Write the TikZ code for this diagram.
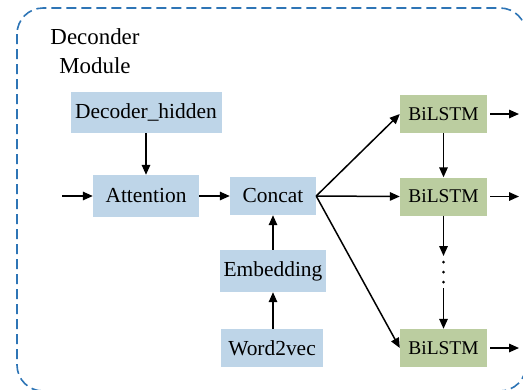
\documentclass[tikz,border=0pt]{standalone}
\usepackage{fontspec}
\newfontfamily\timesf{Liberation Serif}
\usetikzlibrary{arrows.meta}
\definecolor{boxblue}{RGB}{190,213,232}
\definecolor{boxgreen}{RGB}{187,205,160}
\definecolor{frameblue}{RGB}{46,117,182}
\begin{document}
\begin{tikzpicture}[x=1bp,y=-1bp,
  bluebox/.style={fill=boxblue,draw=none,inner sep=0pt,font=\timesf\fontsize{21.5}{25}\selectfont},
  greenbox/.style={fill=boxgreen,draw=none,inner sep=0pt,minimum width=87bp,minimum height=38bp,font=\timesf\fontsize{19.5}{24}\selectfont},
  arr/.style={-{Triangle[length=10bp,width=8.5bp]},line width=1.5bp,black},
  dotmark/.style={circle,fill=black,inner sep=0pt,minimum size=3bp}]
\useasboundingbox (0,0) rectangle (523,389);
\begin{scope}
\clip (0,0) rectangle (523,389);
\draw[frameblue,line width=1.6bp,dash pattern=on 10bp off 5bp,rounded corners=26bp] (17,8) rectangle (526,391);
\end{scope}
\node[font=\timesf\fontsize{23}{29}\selectfont,align=center] (title) at (95,51) {Deconder\\Module};
\node[bluebox,minimum width=151bp,minimum height=41bp] (dh) at (146,112.5) {Decoder\_hidden};
\node[bluebox,minimum width=106bp,minimum height=42bp] (att) at (146,196) {Attention};
\node[bluebox,minimum width=86bp,minimum height=38bp] (cat) at (273,196) {Concat};
\node[bluebox,minimum width=106bp,minimum height=42bp] (emb) at (273,271) {Embedding};
\node[bluebox,minimum width=102bp,minimum height=38bp] (w2v) at (272,348) {Word2vec};
\node[greenbox] (b1) at (443.5,114) {BiLSTM};
\node[greenbox] (b2) at (443.5,196.5) {BiLSTM};
\node[greenbox] (b3) at (443.5,348) {BiLSTM};
\coordinate (in) at (62,196);
\coordinate (o1) at (519,114);
\coordinate (o2) at (519,196.5);
\coordinate (o3) at (519,348);
\coordinate (d1) at (443.5,256);
\coordinate (d2) at (443.5,288);
\node[dotmark] (p1) at (443.5,262) {};
\node[dotmark] (p2) at (443.5,272) {};
\node[dotmark] (p3) at (443.5,282) {};
\draw[arr] (in) -- (att.west);
\draw[arr] (dh.south) -- (att.north);
\draw[arr] (att.east) -- (cat.west);
\draw[arr] (emb.north) -- (cat.south);
\draw[arr] (w2v.north -| emb.south) -- (emb.south);
\draw[arr] (cat.east) -- (b1.west);
\draw[arr] (cat.east) -- (b2.west);
\draw[arr] (cat.east) -- (b3.west);
\draw[arr] (b1.south) -- (b2.north);
\draw[arr] (b2.south) -- (d1);
\draw[arr] (d2) -- (b3.north);
\draw[arr] (b1.east) ++(3,0) -- (o1);
\draw[arr] (b2.east) ++(3,0) -- (o2);
\draw[arr] (b3.east) ++(3,0) -- (o3);
\end{tikzpicture}
\end{document}
